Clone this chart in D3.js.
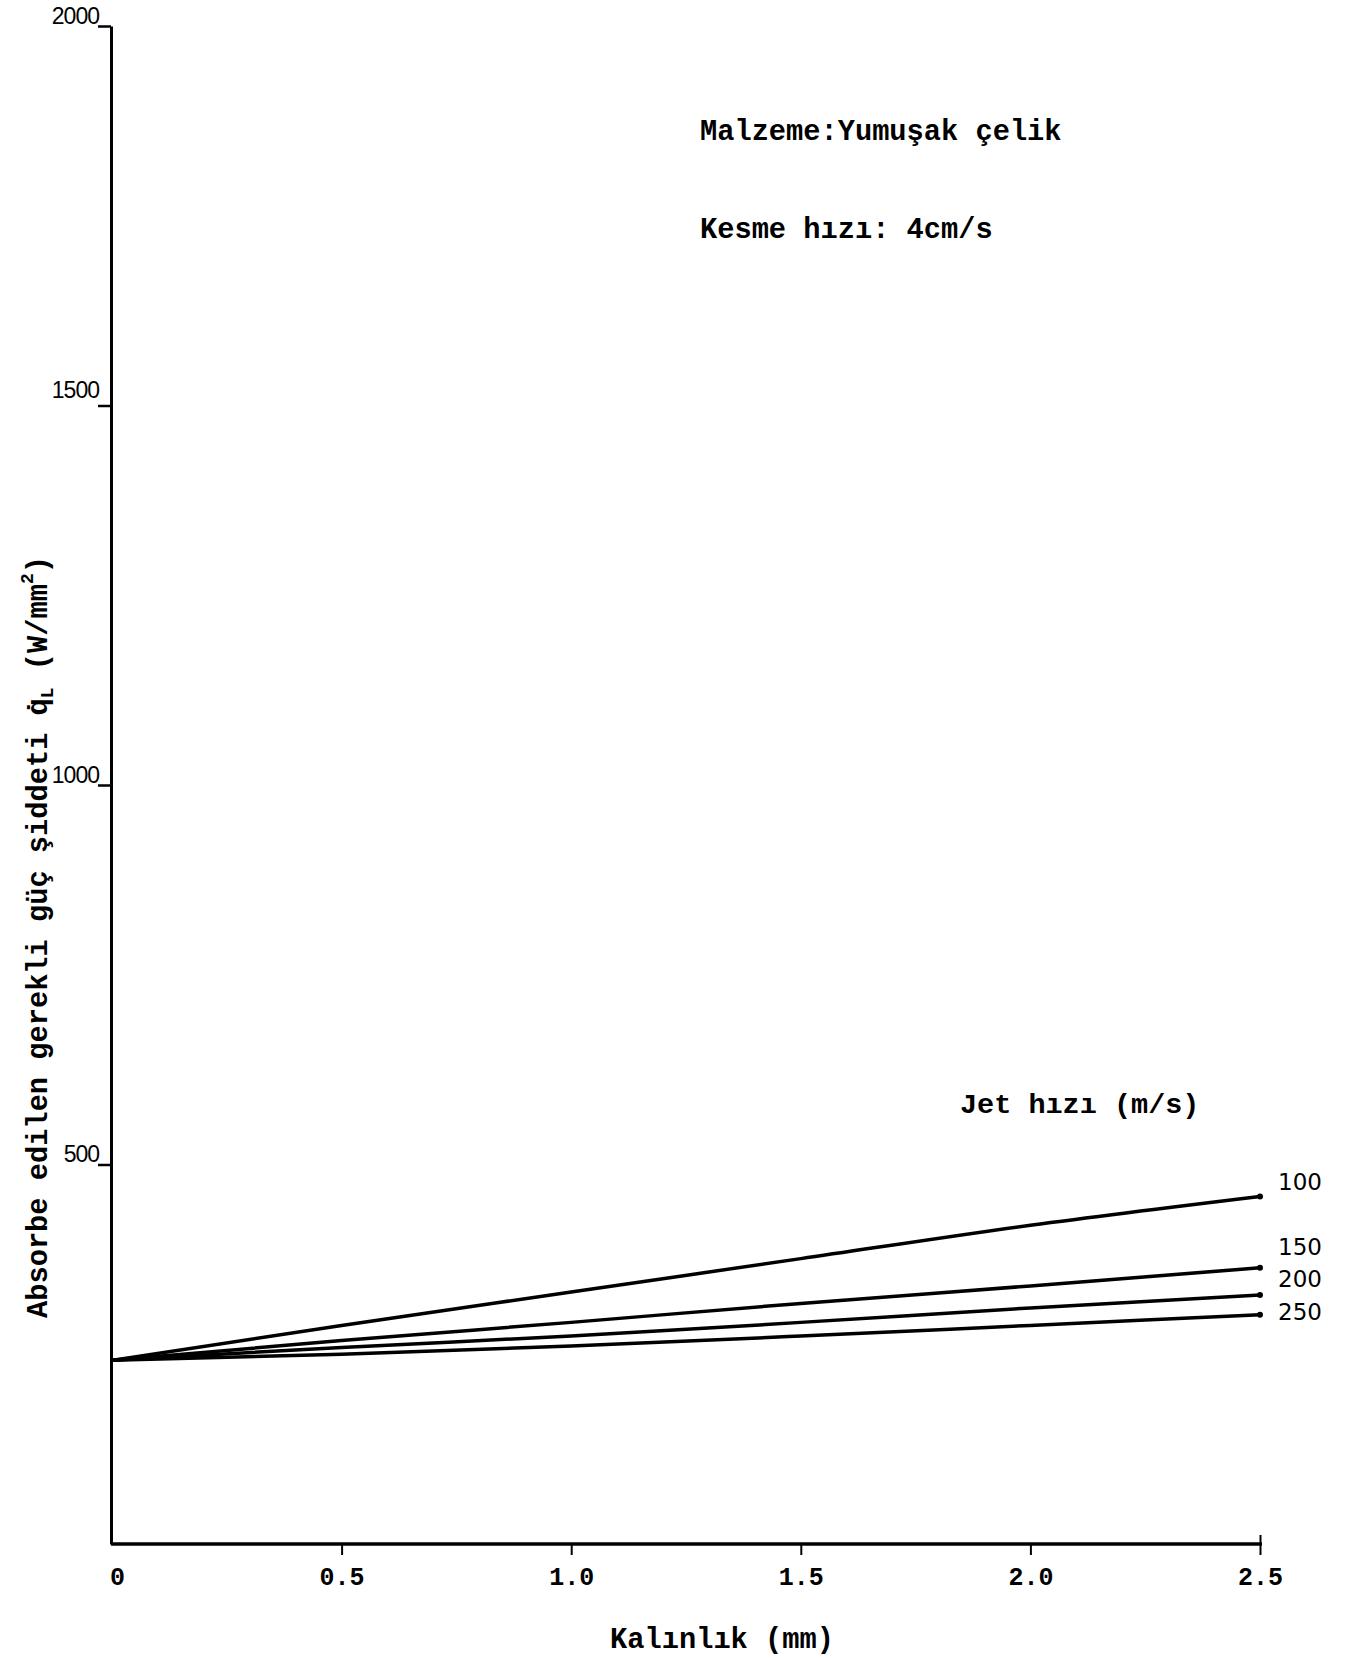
<!DOCTYPE html>
<meta charset="utf-8">
<style>
  body { margin: 0; background: #fff; }
  .mono { font-family: "Liberation Mono", "DejaVu Sans Mono", monospace; font-weight: bold; }
  .series line, .series path { stroke: #000; }
</style>
<svg width="1347" height="1658"></svg>
<script src="https://d3js.org/d3.v7.min.js"></script>
<script>
var svg = d3.select("svg");

// data
var thickness = [0, 0.5, 1.0, 1.5, 2.0, 2.5];          // Kalınlık (mm)
var jetSpeeds = ["100", "150", "200", "250"];          // Jet hızı (m/s)
var q100 = [242, 288, 332, 376, 420, 458];
var q150 = [242, 268, 292, 317, 340, 364];
var q200 = [242, 259, 274, 292, 311, 328];
var q250 = [242, 250, 261, 274, 288, 302];
var yTicks = [500, 1000, 1500, 2000];
var yTickLabels = ["500", "1000", "1500", "2000"];
var xTickLabels = ["0", "0.5", "1.0", "1.5", "2.0", "2.5"];

var series = [q100, q150, q200, q250];

var x = d3.scaleLinear().domain([0, 2.5]).range([112, 1260]);
var y = d3.scaleLinear().domain([0, 2000]).range([1544, 26]);

svg.append("rect").attr("width", 1347).attr("height", 1658).attr("fill", "#fff");

//y axis: ticks on the left, labels sit a little above the tick
var yAxis = svg.append("g")
               .attr("transform", "translate(111,0)")
               .call(d3.axisLeft(y).tickValues(yTicks).tickSize(13).tickSizeOuter(0)
                       .tickFormat((d, i) => yTickLabels[i]));
yAxis.select(".domain").attr("stroke-width", 3);
yAxis.selectAll(".tick line").attr("stroke-width", 2.5);
yAxis.selectAll(".tick text")
     .attr("x", -12).attr("dy", (d, i) => i == 2 ? -8 : -3)
     .attr("font-family", "Liberation Sans, Arial, sans-serif")
     .attr("font-size", 23)
     .attr("letter-spacing", -1);

//x axis
var xAxis = svg.append("g")
               .attr("transform", "translate(0,1544)")
               .call(d3.axisBottom(x).tickValues(thickness).tickSize(11).tickSizeOuter(0)
                       .tickFormat((d, i) => xTickLabels[i]));
xAxis.select(".domain").attr("d", "M111,0H1262").attr("stroke-width", 3.5);
xAxis.selectAll(".tick line").attr("stroke-width", 2)
     .attr("y1", (d, i) => i == thickness.length - 1 ? -9 : 0)
     .attr("opacity", (d, i) => i == 0 ? 0 : 1);
xAxis.selectAll(".tick text")
     .attr("class", "mono")
     .attr("y", 0).attr("dy", 41)
     .attr("dx", (d, i) => i == 0 ? 5 : 0)
     .attr("font-size", 25);

//the four jet-speed curves
var line = d3.line()
             .x((d, i) => x(thickness[i]))
             .y(d => y(d))
             .curve(d3.curveMonotoneX);

var g = svg.append("g").attr("class", "series");
g.selectAll("path")
 .data(series)
 .enter().append("path")
 .attr("d", line)
 .attr("fill", "none")
 .attr("stroke-width", 3.5)
 .attr("stroke-linecap", "round");

g.selectAll("circle")
 .data(series)
 .enter().append("circle")
 .attr("cx", x(2.5))
 .attr("cy", d => y(d[d.length - 1]))
 .attr("r", 3);

// labels were placed by hand next to each end, so nudge them
var labelDy = [-6, -13, -8, 5];
g.selectAll("text")
 .data(series)
 .enter().append("text")
 .attr("x", 1278)
 .attr("y", (d, i) => y(d[d.length - 1]) + labelDy[i])
 .attr("font-family", "DejaVu Sans, sans-serif")
 .attr("font-size", 23)
 .text((d, i) => jetSpeeds[i]);

//annotations
svg.append("text").attr("class", "mono").attr("x", 700).attr("y", 140)
   .attr("font-size", 28.7).text("Malzeme:Yumuşak çelik");
svg.append("text").attr("class", "mono").attr("x", 700).attr("y", 238)
   .attr("font-size", 28.7).text("Kesme hızı: 4cm/s");
svg.append("text").attr("class", "mono").attr("x", 960).attr("y", 1113)
   .attr("font-size", 28.5).text("Jet hızı (m/s)");

//axis titles
svg.append("text").attr("class", "mono")
   .attr("x", 722).attr("y", 1648)
   .attr("text-anchor", "middle")
   .attr("font-size", 28.7)
   .text("Kalınlık (mm)");

var yt = svg.append("text").attr("class", "mono")
            .attr("transform", "translate(47,937) rotate(-90)")
            .attr("text-anchor", "middle")
            .attr("font-size", 28.7);
yt.append("tspan").text("Absorbe edilen gerekli güç şiddeti q\u0307");
yt.append("tspan").attr("font-size", 18).attr("dy", 6).text("L");
yt.append("tspan").attr("dy", -6).text(" (W/mm");
yt.append("tspan").attr("font-size", 18).attr("dy", -14).text("2");
yt.append("tspan").attr("dy", 14).text(")");
</script>
